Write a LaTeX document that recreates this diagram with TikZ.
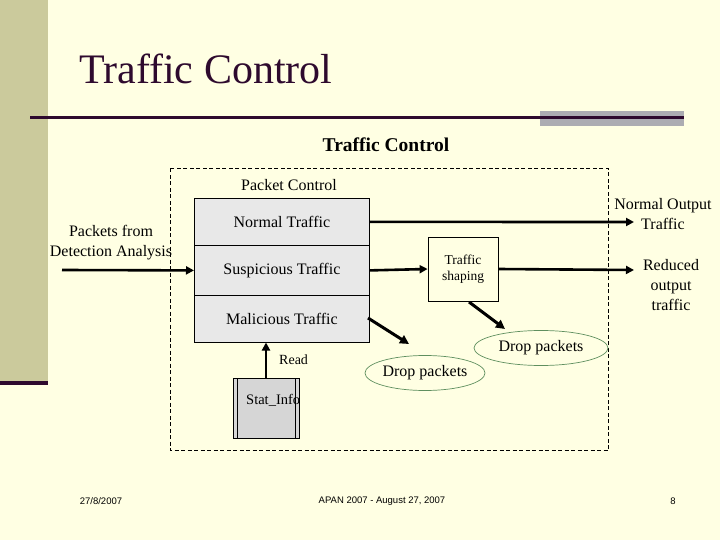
\documentclass[tikz,border=0pt]{standalone}
\usepackage{fontspec}
\setmainfont{Liberation Serif}
\newfontfamily\footfont{Liberation Sans}
\usetikzlibrary{arrows.meta,shapes.geometric}
\definecolor{bgc}{HTML}{FFFFE3}
\definecolor{stripc}{HTML}{CBCA9C}
\definecolor{darkp}{HTML}{2E0A2E}
\definecolor{grayb}{HTML}{ACACB2}
\definecolor{boxg}{HTML}{E8E8E8}
\definecolor{statg}{HTML}{D6D6D6}
\definecolor{ellg}{HTML}{5F8F5F}
\tikzset{
  txt/.style={font=\fontsize{16}{18}\selectfont, align=center, inner sep=0pt},
  flow/.style={line width=2.6pt, -{Triangle[length=8pt,width=8pt]}},
  dflow/.style={line width=3pt, -{Triangle[length=9pt,width=9pt]}},
  row/.style={draw, fill=boxg, line width=0.8pt, minimum width=175pt, inner sep=0pt, font=\fontsize{16}{18}\selectfont},
  dropell/.style={ellipse, draw=ellg, line width=0.7pt, inner sep=0pt, font=\fontsize{16}{18}\selectfont},
  foot/.style={font=\footfont\fontsize{9.5}{11}\selectfont, inner sep=0pt}
}
\begin{document}
\begin{tikzpicture}[x=1pt,y=-1pt]
\useasboundingbox (0,0) rectangle (720,540);
\fill[bgc] (0,0) rectangle (720,540);
\fill[stripc] (0,0) rectangle (48,381);
\fill[darkp] (0,380.5) rectangle (48,384.5);
% title
\node[anchor=base west, inner sep=0pt, text=darkp, font=\fontsize{42}{46}\selectfont] (title) at (79,84) {Traffic Control};
\fill[grayb] (540,111) rectangle (684,126);
\draw[darkp, line width=2.2pt] (30,117.5) -- (684,117.5);
\node[txt, font=\bfseries\fontsize{19.5}{22}\selectfont] (sub) at (386,145) {Traffic Control};
% dashed frame
\draw[dashed, line width=0.8pt, dash pattern=on 4pt off 2.5pt] (170.5,168.5) rectangle (608.5,450.5);
\node[txt] (pc) at (289,185) {Packet Control};
% packet control rows
\node[row, minimum height=47pt, anchor=north west] (nt) at (194,198) {Normal Traffic};
\node[row, minimum height=50pt, anchor=north west] (st) at (194,245) {Suspicious Traffic};
\node[row, minimum height=47pt, anchor=north west] (mt) at (194,295) {Malicious Traffic};
% input
\node[txt] (pin) at (111,243) {Packets from\\[2pt]Detection Analysis};
\coordinate (inS) at (62,270);
\draw[flow] (inS) -- (st.west);
% normal output
\node[txt] (nout) at (663,214) {Normal Output\\[2pt]Traffic};
\draw[flow] (nt.east) -- (634,222) coordinate (noE);
% traffic shaping
\node[draw, fill=bgc, line width=0.8pt, minimum width=70pt, minimum height=64pt, inner sep=0pt, align=center, font=\fontsize{13.5}{16}\selectfont] (ts) at (463,269) {Traffic\\shaping};
\draw[flow] (st.east) -- (ts.west);
\node[txt] (rout) at (671,285) {Reduced\\[2pt]output\\[2pt]traffic};
\draw[flow] (ts.east) -- (634,270) coordinate (roE);
% drop packets
\node[dropell, minimum width=134pt, minimum height=35pt] (d1) at (541,348) {Drop packets};
\node[dropell, minimum width=114pt, minimum height=35pt] (d2) at (425,373) {Drop packets};
\coordinate (d1t) at (505,329);
\coordinate (d2t) at (409,344);
\draw[dflow] (469,302) -- (d1t);
\draw[dflow] (368,318) -- (d2t);
% stat info
\node[draw, fill=statg, line width=0.8pt, minimum width=66pt, minimum height=60pt, inner sep=0pt, anchor=north west] (si) at (233,378) {};
\draw[line width=0.8pt] (237,378) -- (237,438) (295,378) -- (295,438);
\node[anchor=base west, inner sep=0pt, font=\fontsize{14.5}{16}\selectfont] (silab) at (246,404) {Stat\_Info};
\draw[flow] (266,378) -- (266,342.5);
\node[anchor=base west, inner sep=0pt, font=\fontsize{14}{16}\selectfont] (read) at (279,364) {Read};
% footer
\node[foot] (f1) at (101,501) {27/8/2007};
\node[foot] (f2) at (382,501) {APAN 2007 - August 27, 2007};
\node[foot] (f3) at (673,501) {8};
\end{tikzpicture}
\end{document}
